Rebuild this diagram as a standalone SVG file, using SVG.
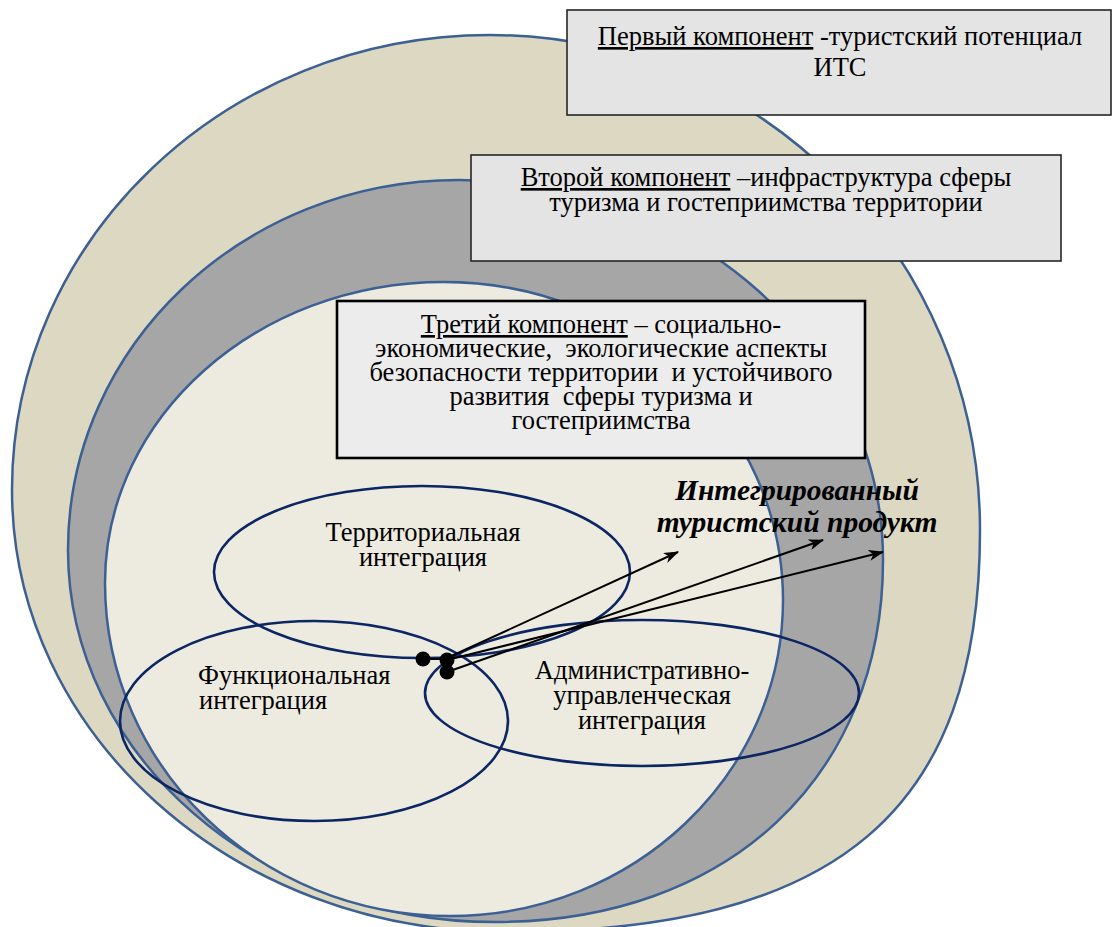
<svg xmlns="http://www.w3.org/2000/svg" width="1113" height="927" viewBox="0 0 1113 927">
  <style>
    .ring { stroke: #3d6094; stroke-width: 2.5; }
    .set { fill: none; stroke: #0c2563; stroke-width: 2.6; }
    .box { fill: #e4e4e4; stroke: #262626; stroke-width: 1.6; }
    .box3 { fill: #ececec; stroke: #000; stroke-width: 2.6; }
    .t { font-family: "Liberation Serif", "Times New Roman", serif; font-size: 26.5px; fill: #000; }
    .c { text-anchor: middle; }
    .u { text-decoration: underline; }
    .title { font-family: "Liberation Serif", "Times New Roman", serif; font-size: 29.5px; font-weight: bold; font-style: italic; fill: #000; text-anchor: middle; }
    .arrow { stroke: #000; stroke-width: 2; fill: none; }
  </style>
  <defs>
    <marker id="head" viewBox="0 0 14 10" refX="13" refY="5" markerWidth="16" markerHeight="11" markerUnits="userSpaceOnUse" orient="auto">
      <path d="M0,0 L14,5 L0,10 L4,5 z" fill="#000"/>
    </marker>
  </defs>

  <!-- concentric component areas -->
  <g id="layer-outer">
    <path class="ring" fill="#ddd8c2" d="M490,35 C760,35 980,257 980,530 C980,811 838,932 505,932 C233,932 12,734 12,490 C12,239 226,35 490,35 Z"/>
  </g>
  <g id="layer-middle">
    <path class="ring" fill="#a6a6a6" d="M459,180 C693,180 883,350 883,560 C883,777 728,922 495,922 C259,922 68,755 68,550 C68,346 243,180 459,180 Z"/>
  </g>
  <g id="layer-inner">
    <path class="ring" fill="#edebe0" d="M444,282 C631,282 783,425 783,600 C783,774 634,916 450,916 C260,916 105,767 105,583 C105,417 257,282 444,282 Z"/>
  </g>

  <!-- component captions -->
  <g id="box-first">
    <rect class="box" x="567" y="10" width="544" height="105"/>
    <text class="t c" x="840" y="45"><tspan class="u">Первый компонент</tspan> -туристский потенциал</text>
    <text class="t c" x="840" y="76">ИТС</text>
  </g>
  <g id="box-second">
    <rect class="box" x="471" y="155" width="590" height="106"/>
    <text class="t c" x="766" y="186"><tspan class="u">Второй компонент</tspan> –инфраструктура сферы</text>
    <text class="t c" x="766" y="211">туризма и гостеприимства территории</text>
  </g>
  <g id="box-third">
    <rect class="box3" x="337" y="301" width="528" height="157"/>
    <text class="t c" x="601" y="333"><tspan class="u">Третий компонент</tspan> – социально-</text>
    <text class="t c" x="601" y="357" xml:space="preserve">экономические,  экологические аспекты</text>
    <text class="t c" x="601" y="381" xml:space="preserve">безопасности территории  и устойчивого</text>
    <text class="t c" x="601" y="405" xml:space="preserve">развития  сферы туризма и</text>
    <text class="t c" x="601" y="429">гостеприимства</text>
  </g>

  <!-- integration sets -->
  <g id="set-territorial">
    <ellipse class="set" cx="422" cy="572" rx="208" ry="86"/>
    <text class="t c" x="423" y="541">Территориальная</text>
    <text class="t c" x="423" y="566">интеграция</text>
  </g>
  <g id="set-functional">
    <ellipse class="set" cx="314" cy="721" rx="194" ry="100"/>
    <text class="t" x="198" y="684">Функциональная</text>
    <text class="t" x="199" y="709">интеграция</text>
  </g>
  <g id="set-administrative">
    <ellipse class="set" cx="642" cy="693" rx="217" ry="73"/>
    <text class="t c" x="642" y="679">Административно-</text>
    <text class="t c" x="642" y="704">управленческая</text>
    <text class="t c" x="642" y="729">интеграция</text>
  </g>

  <g id="product-label">
    <text class="title" x="797" y="500">Интегрированный</text>
    <text class="title" x="797" y="532">туристский продукт</text>
  </g>

  <!-- connectors from the intersection points -->
  <g id="connectors">
    <line class="arrow" x1="423" y1="659" x2="447" y2="659"/>
    <line class="arrow" x1="447" y1="658" x2="678" y2="552" marker-end="url(#head)"/>
    <line class="arrow" x1="447" y1="672" x2="823" y2="540" marker-end="url(#head)"/>
    <line class="arrow" x1="447" y1="660" x2="883" y2="552" marker-end="url(#head)"/>
    <circle cx="423" cy="659" r="7.5" fill="#000"/>
    <circle cx="447" cy="660" r="7.5" fill="#000"/>
    <circle cx="447" cy="672" r="7.5" fill="#000"/>
  </g>
</svg>
